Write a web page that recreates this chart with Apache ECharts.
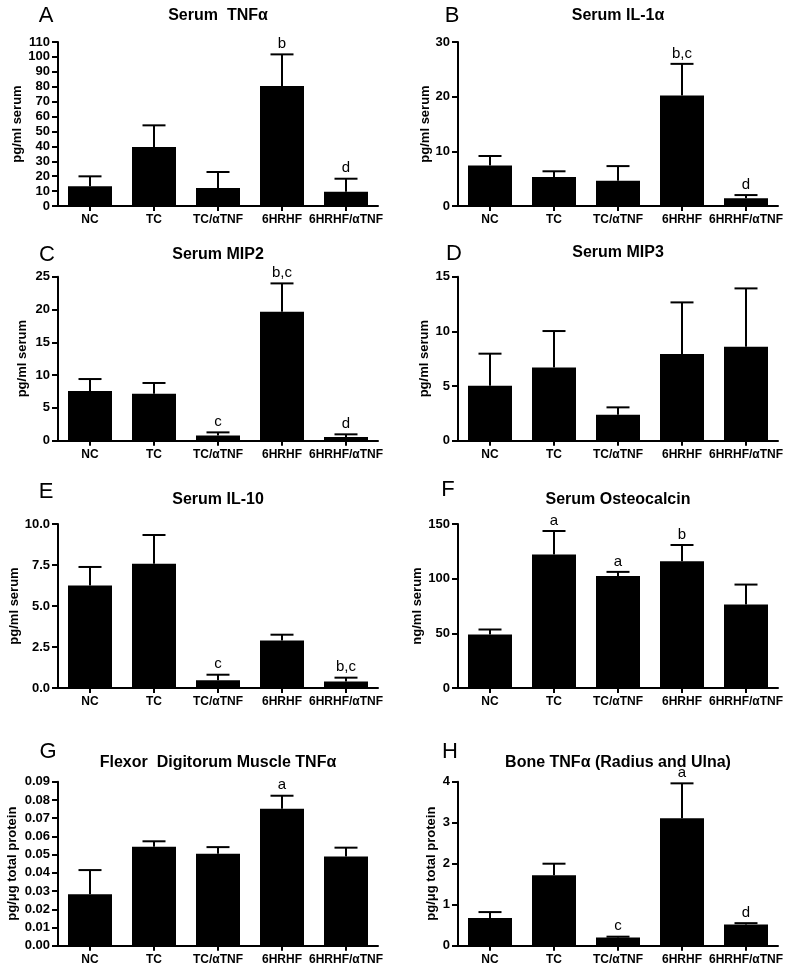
<!DOCTYPE html>
<html>
<head>
<meta charset="utf-8">
<script src="https://cdn.jsdelivr.net/npm/echarts@6/dist/echarts.min.js"></script>
<style>
  html, body { margin: 0; padding: 0; background: #fff; }
  #chart { width: 800px; height: 970px; }
</style>
</head>
<body>
<div id="chart"></div>
<script>
const categories = ['NC', 'TC', 'TC/αTNF', '6HRHF', '6HRHF/αTNF'];

// A - serum TNFα
const tnfSerum = [13.2, 39.6, 12.1, 80.5, 9.6];
const tnfSerumUpper = [19.9, 54.1, 22.8, 101.7, 18.3];
const tnfSerumMarks = ['', '', '', 'b', 'd'];
// B - serum IL-1α
const il1a = [7.4, 5.3, 4.6, 20.2, 1.4];
const il1aUpper = [9.15, 6.35, 7.3, 26.0, 2.0];
const il1aMarks = ['', '', '', 'b,c', 'd'];
// C - serum MIP2
const mip2 = [7.57, 7.16, 0.81, 19.66, 0.56];
const mip2Upper = [9.4, 8.8, 1.27, 23.98, 0.97];
const mip2Marks = ['', '', 'c', 'b,c', 'd'];
// D - serum MIP3
const mip3 = [5.03, 6.7, 2.38, 7.93, 8.6];
const mip3Upper = [7.96, 10.03, 3.05, 12.65, 13.93];
const mip3Marks = ['', '', '', '', ''];
// E - serum IL-10
const il10 = [6.25, 7.57, 0.47, 2.9, 0.39];
const il10Upper = [7.38, 9.33, 0.81, 3.25, 0.63];
const il10Marks = ['', '', 'c', '', 'b,c'];
// F - serum osteocalcin
const osteo = [49, 122, 102.5, 115.9, 76.4];
const osteoUpper = [53.5, 143.6, 106.2, 130.8, 94.6];
const osteoMarks = ['', 'a', 'a', 'b', ''];
// G - muscle TNFα
const muscleTnf = [0.0282, 0.0543, 0.0505, 0.0752, 0.049];
const muscleTnfUpper = [0.0415, 0.0573, 0.0541, 0.0823, 0.0538];
const muscleMarks = ['', '', '', 'a', ''];
// H - bone TNFα
const boneTnf = [0.675, 1.72, 0.2, 3.11, 0.52];
const boneTnfUpper = [0.82, 2.0, 0.22, 3.96, 0.55];
const boneMarks = ['', '', 'c', 'a', 'd'];

const panels = [
  {letter: 'A', title: 'Serum  TNFα', yName: 'pg/ml serum', max: 110, step: 10, dec: 0, gap: 31, mean: tnfSerum, upper: tnfSerumUpper, marks: tnfSerumMarks},
  {letter: 'B', title: 'Serum IL-1α', yName: 'pg/ml serum', max: 30, step: 10, dec: 0, gap: 26, mean: il1a, upper: il1aUpper, marks: il1aMarks},
  {letter: 'C', title: 'Serum MIP2', yName: 'pg/ml serum', max: 25, step: 5, dec: 0, gap: 29, mean: mip2, upper: mip2Upper, marks: mip2Marks},
  {letter: 'D', title: 'Serum MIP3', yName: 'pg/ml serum', max: 15, step: 5, dec: 0, gap: 27, mean: mip3, upper: mip3Upper, marks: mip3Marks},
  {letter: 'E', title: 'Serum IL-10', yName: 'pg/ml serum', max: 10, step: 2.5, dec: 1, gap: 36, mean: il10, upper: il10Upper, marks: il10Marks},
  {letter: 'F', title: 'Serum Osteocalcin', yName: 'ng/ml serum', max: 150, step: 50, dec: 0, gap: 29, mean: osteo, upper: osteoUpper, marks: osteoMarks},
  {letter: 'G', title: 'Flexor  Digitorum Muscle TNFα', yName: 'pg/μg total protein', max: 0.09, step: 0.01, dec: 2, gap: 39, mean: muscleTnf, upper: muscleTnfUpper, marks: muscleMarks},
  {letter: 'H', title: 'Bone TNFα (Radius and Ulna)', yName: 'pg/μg total protein', max: 4, step: 1, dec: 0, gap: 20, mean: boneTnf, upper: boneTnfUpper, marks: boneMarks}
];

// layout
const lefts = [58, 458];
const tops = [42, 276.7, 524, 781.7];
const plotW = 320, plotH = 164;
const titleY = [16, 16, 255, 253, 500, 500, 763, 763];
const letterY = [16, 16, 255, 254, 492, 490, 752, 752];
const letterX = [46, 452, 47, 454, 46, 448, 48, 450];

const FONT = '"Liberation Sans", Arial, sans-serif';
const chart = echarts.init(document.getElementById('chart'));

const grid = [], xAxis = [], yAxis = [], series = [], graphic = [];

panels.forEach((p, i) => {
  const left = lefts[i % 2], top = tops[Math.floor(i / 2)];
  grid.push({left: left, top: top, width: plotW, height: plotH});
  xAxis.push({
    type: 'category', gridIndex: i, data: categories,
    axisLine: {lineStyle: {color: '#000', width: 2}},
    axisTick: {show: true, alignWithLabel: true, length: 5, lineStyle: {color: '#000', width: 2}},
    axisLabel: {color: '#000', fontFamily: FONT, fontWeight: 'bold', fontSize: 12, margin: 8, interval: 0}
  });
  yAxis.push({
    type: 'value', gridIndex: i, min: 0, max: p.max, interval: p.step,
    name: p.yName, nameLocation: 'middle', nameRotate: 90, nameGap: p.gap,
    nameTextStyle: {color: '#000', fontFamily: FONT, fontWeight: 'bold', fontSize: 13},
    axisLine: {show: true, lineStyle: {color: '#000', width: 2}},
    axisTick: {show: true, length: 6, lineStyle: {color: '#000', width: 2}},
    splitLine: {show: false},
    axisLabel: {color: '#000', fontFamily: FONT, fontWeight: 'bold', fontSize: 13, margin: 8,
      formatter: v => Number(v).toFixed(p.dec)}
  });
  series.push({
    type: 'bar', xAxisIndex: i, yAxisIndex: i, data: p.mean,
    barWidth: 44, itemStyle: {color: '#000'}, silent: true
  });
  series.push({
    type: 'custom', xAxisIndex: i, yAxisIndex: i, clip: false, silent: true, z: 5,
    data: p.mean.map((m, k) => [k, m, p.upper[k]]),
    encode: {x: 0, y: [1, 2]},
    renderItem: (params, api) => {
      const k = api.value(0);
      const base = api.coord([k, api.value(1)]);
      const tip = api.coord([k, api.value(2)]);
      const half = 11.5;
      const children = [
        {type: 'line', shape: {x1: base[0], y1: base[1], x2: tip[0], y2: tip[1]}, style: {stroke: '#000', lineWidth: 2}},
        {type: 'line', shape: {x1: tip[0] - half, y1: tip[1], x2: tip[0] + half, y2: tip[1]}, style: {stroke: '#000', lineWidth: 2}}
      ];
      const mark = p.marks[params.dataIndex];
      if (mark) {
        children.push({type: 'text', style: {text: mark, x: tip[0], y: tip[1] - 3,
          align: 'center', verticalAlign: 'bottom', textAlign: 'center', textVerticalAlign: 'bottom',
          font: '15px ' + FONT, fill: '#000'}});
      }
      return {type: 'group', children: children};
    }
  });
  graphic.push({type: 'text', x: left + plotW / 2, y: titleY[i],
    style: {text: p.title, align: 'center', verticalAlign: 'middle', textAlign: 'center', textVerticalAlign: 'middle',
      font: 'bold 16px ' + FONT, fill: '#000'}});
  graphic.push({type: 'text', x: letterX[i], y: letterY[i],
    style: {text: p.letter, align: 'center', verticalAlign: 'middle', textAlign: 'center', textVerticalAlign: 'middle',
      font: '22px ' + FONT, fill: '#000'}});
});

chart.setOption({
  backgroundColor: '#fff',
  animation: false,
  grid: grid,
  xAxis: xAxis,
  yAxis: yAxis,
  series: series,
  graphic: graphic
});
</script>
</body>
</html>
